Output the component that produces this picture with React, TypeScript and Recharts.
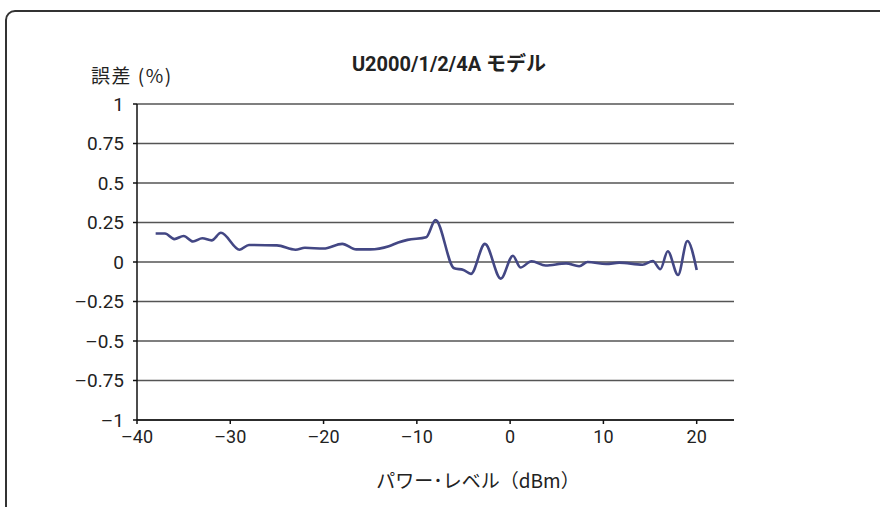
import React from "react";
import { LineChart, Line, XAxis, YAxis, CartesianGrid } from "recharts";

// Measured error (%) versus power level (dBm)
const powerLevels = [
  -38, -37, -36, -35, -34, -33, -32, -31, -29, -28, -25, -23, -22, -20, -18,
  -16.5, -15, -13, -12, -11, -9, -8, -6, -5, -4.2, -2.7, -1, 0.3, 1.1, 2.3,
  3.8, 6, 7.4, 8.3, 10.3, 11.7, 14.2, 15.3, 16.1, 16.9, 18, 19, 20,
];
const errorPercent = [
  0.18, 0.18, 0.145, 0.165, 0.13, 0.15, 0.137, 0.185, 0.078, 0.108, 0.105,
  0.078, 0.09, 0.085, 0.115, 0.08, 0.08, 0.1, 0.123, 0.14, 0.157, 0.265, -0.04,
  -0.05, -0.075, 0.115, -0.105, 0.04, -0.035, 0.005, -0.022, -0.009, -0.027, 0,
  -0.013, -0.004, -0.017, 0.006, -0.046, 0.068, -0.082, 0.133, -0.05,
];

const xTicks = [-40, -30, -20, -10, 0, 10, 20];
const yTicks = [-1, -0.75, -0.5, -0.25, 0, 0.25, 0.5, 0.75, 1];

const title = "U2000/1/2/4A モデル";
const yTitle = "誤差 (%)";
const xTitle = "パワー･レベル（dBm）";

const data = powerLevels.map((p, i) => ({ p, e: errorPercent[i] }));

const numFont = 'Roboto, "Noto Sans CJK JP", sans-serif';
const jpFont = '"Noto Sans CJK JP", "Noto Sans", sans-serif';

const fmt = (v: number) => (v < 0 ? "\u2013" + String(-v) : String(v));

export default function App() {
  return (
    <div
      style={{
        position: "absolute",
        left: 0,
        top: 0,
        width: 880,
        height: 507,
        overflow: "hidden",
        background: "#fff",
      }}
    >
      <div
        style={{
          position: "absolute",
          left: 5,
          top: 10,
          width: 920,
          height: 540,
          border: "2px solid #333",
          borderRadius: 10,
          boxSizing: "border-box",
        }}
      />
      <div
        style={{
          position: "absolute",
          left: 0,
          width: 898,
          top: 48,
          textAlign: "center",
          fontFamily: numFont,
          fontWeight: "bold",
          fontSize: 20,
          color: "#222",
          whiteSpace: "nowrap",
        }}
      >
        {title}
      </div>
      <div
        style={{
          position: "absolute",
          left: 91,
          top: 61,
          fontFamily: jpFont,
          fontSize: 19,
          letterSpacing: 1.5,
          color: "#222",
          whiteSpace: "nowrap",
        }}
      >
        {yTitle}
      </div>
      <div
        style={{
          position: "absolute",
          left: 0,
          width: 956,
          top: 466,
          textAlign: "center",
          fontFamily: jpFont,
          fontSize: 19,
          color: "#222",
          whiteSpace: "nowrap",
        }}
      >
        {xTitle}
      </div>
      <div style={{ position: "absolute", left: 0, top: 0 }}>
        <LineChart
          width={880}
          height={507}
          data={data}
          margin={{ top: 104, right: 146, bottom: 57, left: 0 }}
        >
          <CartesianGrid horizontal vertical={false} stroke="#555" strokeWidth={1.6} />
          <XAxis
            dataKey="p"
            type="number"
            domain={[-40, 24]}
            ticks={xTicks}
            tickFormatter={fmt}
            height={30}
            stroke="#111"
            strokeWidth={1.5}
            tickSize={4}
            tickMargin={6}
            tick={{ fill: "#222", fontSize: 18, fontFamily: numFont }}
          />
          <YAxis
            type="number"
            domain={[-1, 1]}
            ticks={yTicks}
            tickFormatter={fmt}
            width={137}
            stroke="#111"
            strokeWidth={1.5}
            tickSize={4}
            tickMargin={9}
            tick={{ fill: "#222", fontSize: 19, fontFamily: numFont }}
          />
          <Line
            dataKey="e"
            type="monotone"
            stroke="#434784"
            strokeWidth={2.6}
            dot={false}
            isAnimationActive={false}
          />
        </LineChart>
      </div>
    </div>
  );
}
